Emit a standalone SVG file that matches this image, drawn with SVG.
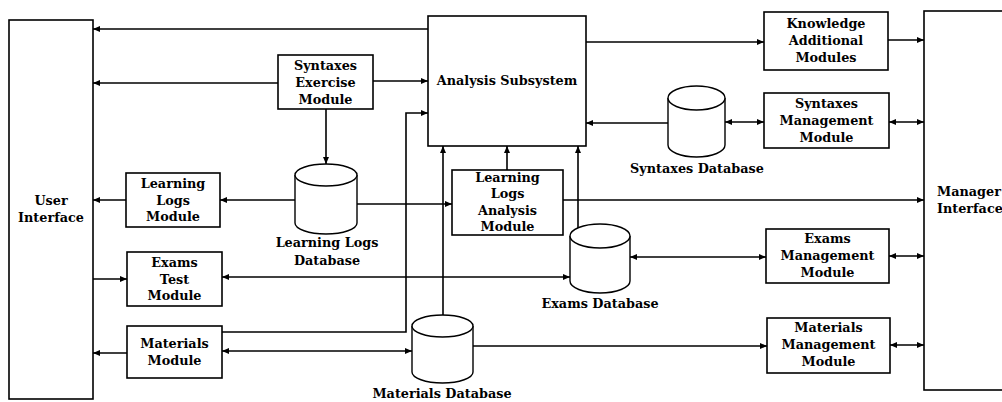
<svg xmlns="http://www.w3.org/2000/svg" width="1002" height="402" viewBox="0 0 1002 402">
<style>
.box{fill:#fff;stroke:#000;stroke-width:1.6}
.db{fill:#fff;stroke:#000;stroke-width:1.4}
.t{font-family:"DejaVu Serif","Liberation Serif",serif;font-weight:bold;font-size:12.8px;fill:#000;text-anchor:middle}
.c path{fill:none;stroke:#000;stroke-width:1.6}
.e{marker-end:url(#ah)}
.b{marker-start:url(#ah);marker-end:url(#ah)}
</style>
<defs>
<marker id="ah" markerUnits="userSpaceOnUse" markerWidth="8" markerHeight="7" refX="7" refY="3.5" orient="auto-start-reverse">
<path d="M0,0.5 L7,3.5 L0,6.5 z" fill="#000"/>
</marker>
</defs>
<rect width="1002" height="402" fill="#fff"/>

<g id="user-interface">
<rect class="box" x="9" y="20" width="84" height="379"/>
<text class="t" x="51" y="205">User</text>
<text class="t" x="51" y="222">Interface</text>
</g>

<g id="manager-interface">
<rect class="box" x="924" y="11" width="90" height="379"/>
<text class="t" x="937" y="196" style="text-anchor:start">Manager</text>
<text class="t" x="937" y="213" style="text-anchor:start">Interface</text>
</g>

<g id="analysis-subsystem">
<rect class="box" x="428" y="16" width="158" height="130"/>
<text class="t" x="507" y="85">Analysis Subsystem</text>
</g>

<g id="syntaxes-exercise-module">
<rect class="box" x="278" y="55" width="95" height="54"/>
<text class="t" x="325.5" y="70">Syntaxes</text>
<text class="t" x="325.5" y="87">Exercise</text>
<text class="t" x="325.5" y="104">Module</text>
</g>

<g id="knowledge-additional-modules">
<rect class="box" x="764" y="12" width="124" height="58"/>
<text class="t" x="826" y="28">Knowledge</text>
<text class="t" x="826" y="45">Additional</text>
<text class="t" x="826" y="62">Modules</text>
</g>

<g id="syntaxes-management-module">
<rect class="box" x="764" y="93" width="125" height="55"/>
<text class="t" x="826.5" y="108">Syntaxes</text>
<text class="t" x="826.5" y="125">Management</text>
<text class="t" x="826.5" y="142">Module</text>
</g>

<g id="syntaxes-database">
<path class="db" d="M668,98 V145 A28.5,12 0 0 0 725,145 V98"/>
<ellipse class="db" cx="696.5" cy="98" rx="28.5" ry="12"/>
<text class="t" x="697" y="173">Syntaxes Database</text>
</g>

<g id="learning-logs-module">
<rect class="box" x="126" y="173" width="94" height="54"/>
<text class="t" x="173" y="188">Learning</text>
<text class="t" x="173" y="205">Logs</text>
<text class="t" x="173" y="221">Module</text>
</g>

<g id="learning-logs-database">
<path class="db" d="M295,175 V223 A31,11 0 0 0 357,223 V175"/>
<ellipse class="db" cx="326" cy="175" rx="31" ry="11"/>
<text class="t" x="327" y="247">Learning Logs</text>
<text class="t" x="327" y="265">Database</text>
</g>

<g id="learning-logs-analysis-module">
<rect class="box" x="452" y="170" width="111" height="65"/>
<text class="t" x="507.5" y="182">Learning</text>
<text class="t" x="507.5" y="198">Logs</text>
<text class="t" x="507.5" y="215">Analysis</text>
<text class="t" x="507.5" y="231">Module</text>
</g>

<g id="exams-test-module">
<rect class="box" x="127" y="252" width="95" height="54"/>
<text class="t" x="174.5" y="267">Exams</text>
<text class="t" x="174.5" y="284">Test</text>
<text class="t" x="174.5" y="300">Module</text>
</g>

<g id="exams-database">
<path class="db" d="M570,236 V281 A30,12 0 0 0 630,281 V236"/>
<ellipse class="db" cx="600" cy="236" rx="30" ry="12"/>
<text class="t" x="600" y="308">Exams Database</text>
</g>

<g id="exams-management-module">
<rect class="box" x="766" y="229" width="123" height="54"/>
<text class="t" x="827.5" y="243">Exams</text>
<text class="t" x="827.5" y="260">Management</text>
<text class="t" x="827.5" y="277">Module</text>
</g>

<g id="materials-module">
<rect class="box" x="127" y="326" width="95" height="52"/>
<text class="t" x="174.5" y="348">Materials</text>
<text class="t" x="174.5" y="365">Module</text>
</g>

<g id="materials-database">
<path class="db" d="M412,326 V372 A30.5,11 0 0 0 473,372 V326"/>
<ellipse class="db" cx="442.5" cy="326" rx="30.5" ry="11"/>
<text class="t" x="442" y="398">Materials Database</text>
</g>

<g id="materials-management-module">
<rect class="box" x="767" y="318" width="123" height="55"/>
<text class="t" x="828.5" y="332">Materials</text>
<text class="t" x="828.5" y="349">Management</text>
<text class="t" x="828.5" y="366">Module</text>
</g>

<g id="connectors" class="c">
<path class="e" d="M428,29 H93"/>
<path class="e" d="M278,83 H93"/>
<path class="e" d="M373,81 H428"/>
<path class="e" d="M326,109 V164"/>
<path class="e" d="M295,200 H220"/>
<path class="e" d="M126,200 H93"/>
<path class="e" d="M357,204 H452"/>
<path class="e" d="M507,170 V146"/>
<path class="e" d="M563,200 H924"/>
<path class="e" d="M443,315 V146"/>
<path class="e" d="M578,228 V146"/>
<path class="e" d="M222,332 H406 V113 H428"/>
<path class="e" d="M668,123 H586"/>
<path class="e" d="M586,42 H764"/>
<path class="e" d="M888,40 H924"/>
<path class="b" d="M725,122 H764"/>
<path class="b" d="M889,122 H924"/>
<path class="e" d="M93,279 H127"/>
<path class="b" d="M222,277 H570"/>
<path class="b" d="M630,257 H766"/>
<path class="b" d="M889,256 H924"/>
<path class="e" d="M127,353 H93"/>
<path class="b" d="M222,351 H412"/>
<path class="e" d="M473,346 H767"/>
<path class="b" d="M890,345 H924"/>
</g>
</svg>
